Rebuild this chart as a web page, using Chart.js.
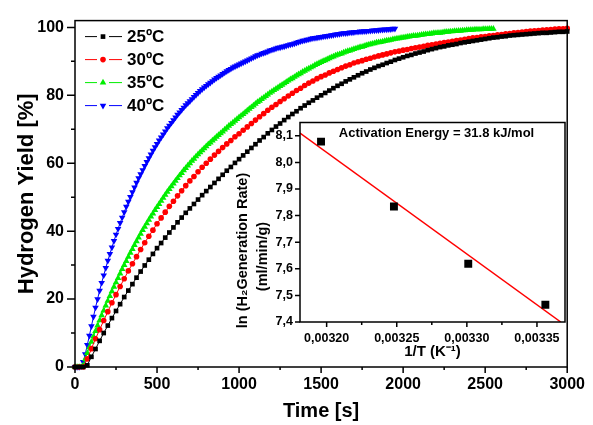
<!DOCTYPE html>
<html>
<head>
<meta charset="utf-8">
<script src="https://cdn.jsdelivr.net/npm/chart.js@4/dist/chart.umd.min.js"></script>
<style>
  body { margin: 0; background: #fff; }
  #wrap { position: relative; width: 593px; height: 425px; }
  #main { position: absolute; left: 0; top: 0; }
  #inset { position: absolute; left: 222px; top: 108px; }
</style>
</head>
<body>
<div id="wrap">
  <canvas id="main" width="593" height="425"></canvas>
  <canvas id="inset" width="350" height="255"></canvas>
</div>
<script>
// time axis (s), 25 s sampling (25 and 30 ºC runs)
const times = [
  0, 25, 50, 75, 100, 125, 150, 175, 200, 225,
  250, 275, 300, 325, 350, 375, 400, 425, 450, 475,
  500, 525, 550, 575, 600, 625, 650, 675, 700, 725,
  750, 775, 800, 825, 850, 875, 900, 925, 950, 975,
  1000, 1025, 1050, 1075, 1100, 1125, 1150, 1175, 1200, 1225,
  1250, 1275, 1300, 1325, 1350, 1375, 1400, 1425, 1450, 1475,
  1500, 1525, 1550, 1575, 1600, 1625, 1650, 1675, 1700, 1725,
  1750, 1775, 1800, 1825, 1850, 1875, 1900, 1925, 1950, 1975,
  2000, 2025, 2050, 2075, 2100, 2125, 2150, 2175, 2200, 2225,
  2250, 2275, 2300, 2325, 2350, 2375, 2400, 2425, 2450, 2475,
  2500, 2525, 2550, 2575, 2600, 2625, 2650, 2675, 2700, 2725,
  2750, 2775, 2800, 2825, 2850, 2875, 2900, 2925, 2950, 2975,
  3000
];

// time axis (s), 12.5 s sampling (35 and 40 ºC runs)
const timesFine = [
  0, 12.5, 25, 37.5, 50, 62.5, 75, 87.5,
  100, 112.5, 125, 137.5, 150, 162.5, 175, 187.5,
  200, 212.5, 225, 237.5, 250, 262.5, 275, 287.5,
  300, 312.5, 325, 337.5, 350, 362.5, 375, 387.5,
  400, 412.5, 425, 437.5, 450, 462.5, 475, 487.5,
  500, 512.5, 525, 537.5, 550, 562.5, 575, 587.5,
  600, 612.5, 625, 637.5, 650, 662.5, 675, 687.5,
  700, 712.5, 725, 737.5, 750, 762.5, 775, 787.5,
  800, 812.5, 825, 837.5, 850, 862.5, 875, 887.5,
  900, 912.5, 925, 937.5, 950, 962.5, 975, 987.5,
  1000, 1012.5, 1025, 1037.5, 1050, 1062.5, 1075, 1087.5,
  1100, 1112.5, 1125, 1137.5, 1150, 1162.5, 1175, 1187.5,
  1200, 1212.5, 1225, 1237.5, 1250, 1262.5, 1275, 1287.5,
  1300, 1312.5, 1325, 1337.5, 1350, 1362.5, 1375, 1387.5,
  1400, 1412.5, 1425, 1437.5, 1450, 1462.5, 1475, 1487.5,
  1500, 1512.5, 1525, 1537.5, 1550, 1562.5, 1575, 1587.5,
  1600, 1612.5, 1625, 1637.5, 1650, 1662.5, 1675, 1687.5,
  1700, 1712.5, 1725, 1737.5, 1750, 1762.5, 1775, 1787.5,
  1800, 1812.5, 1825, 1837.5, 1850, 1862.5, 1875, 1887.5,
  1900, 1912.5, 1925, 1937.5, 1950, 1962.5, 1975, 1987.5,
  2000, 2012.5, 2025, 2037.5, 2050, 2062.5, 2075, 2087.5,
  2100, 2112.5, 2125, 2137.5, 2150, 2162.5, 2175, 2187.5,
  2200, 2212.5, 2225, 2237.5, 2250, 2262.5, 2275, 2287.5,
  2300, 2312.5, 2325, 2337.5, 2350, 2362.5, 2375, 2387.5,
  2400, 2412.5, 2425, 2437.5, 2450, 2462.5, 2475, 2487.5,
  2500, 2512.5, 2525, 2537.5, 2550
];

// hydrogen yield (%) per temperature
const yield25 = [
  0, 0, 0, 0.5, 3.0, 5.3, 7.7, 10.0, 12.2, 14.4,
  16.5, 18.5, 20.6, 22.5, 24.4, 26.3, 28.1, 29.9, 31.6, 33.3,
  35.0, 36.5, 38.1, 39.6, 41.1, 42.6, 44.0, 45.4, 46.7, 48.0,
  49.3, 50.6, 51.8, 53.0, 54.2, 55.4, 56.6, 57.8, 58.9, 60.1,
  61.2, 62.3, 63.4, 64.5, 65.6, 66.7, 67.7, 68.8, 69.8, 70.8,
  71.7, 72.7, 73.6, 74.5, 75.3, 76.2, 77.0, 77.8, 78.5, 79.3,
  80.0, 80.7, 81.4, 82.1, 82.8, 83.4, 84.1, 84.7, 85.3, 85.9,
  86.5, 87.0, 87.6, 88.1, 88.6, 89.0, 89.5, 89.9, 90.4, 90.8,
  91.2, 91.6, 91.9, 92.3, 92.6, 92.9, 93.3, 93.6, 93.9, 94.2,
  94.4, 94.7, 94.9, 95.1, 95.4, 95.6, 95.8, 96.0, 96.2, 96.4,
  96.6, 96.8, 97.0, 97.1, 97.3, 97.4, 97.6, 97.7, 97.8, 97.9,
  98.0, 98.1, 98.2, 98.3, 98.4, 98.4, 98.5, 98.6, 98.7, 98.7,
  98.8
];
const yield30 = [
  0, 0, 0, 2.4, 5.4, 8.3, 11.0, 13.7, 16.3, 18.9,
  21.3, 23.7, 26.0, 28.3, 30.4, 32.5, 34.6, 36.6, 38.5, 40.3,
  42.2, 43.9, 45.6, 47.3, 48.8, 50.4, 51.9, 53.4, 54.8, 56.1,
  57.5, 58.8, 60.0, 61.2, 62.4, 63.5, 64.6, 65.7, 66.7, 67.8,
  68.7, 69.7, 70.7, 71.7, 72.7, 73.7, 74.6, 75.6, 76.5, 77.3,
  78.2, 79.0, 79.8, 80.6, 81.4, 82.1, 82.9, 83.6, 84.2, 84.9,
  85.5, 86.0, 86.6, 87.1, 87.6, 88.1, 88.6, 89.0, 89.5, 89.9,
  90.2, 90.6, 90.9, 91.3, 91.6, 91.9, 92.2, 92.5, 92.8, 93.0,
  93.3, 93.5, 93.8, 94.0, 94.2, 94.4, 94.7, 94.9, 95.1, 95.3,
  95.5, 95.7, 95.9, 96.1, 96.3, 96.5, 96.7, 96.9, 97.0, 97.2,
  97.3, 97.5, 97.6, 97.8, 97.9, 98.1, 98.2, 98.4, 98.5, 98.6,
  98.8, 98.9, 99.0, 99.1, 99.2, 99.3, 99.4, 99.5, 99.6, 99.6,
  99.7
];
const yield35 = [
  0, 0, 0, 0, 0.5, 2.3, 4.1, 5.8,
  7.4, 9.0, 10.6, 12.2, 13.7, 15.2, 16.6, 18.1,
  19.5, 20.9, 22.3, 23.6, 24.9, 26.2, 27.5, 28.8,
  30.0, 31.2, 32.4, 33.6, 34.7, 35.9, 37.0, 38.1,
  39.2, 40.3, 41.3, 42.3, 43.3, 44.3, 45.2, 46.2,
  47.1, 48.0, 48.9, 49.8, 50.7, 51.6, 52.4, 53.2,
  54.0, 54.8, 55.6, 56.4, 57.1, 57.9, 58.6, 59.3,
  60.0, 60.7, 61.3, 62.0, 62.6, 63.2, 63.8, 64.4,
  65.0, 65.6, 66.1, 66.7, 67.2, 67.8, 68.3, 68.8,
  69.3, 69.9, 70.4, 71.0, 71.5, 72.0, 72.5, 73.0,
  73.5, 74.0, 74.5, 75.0, 75.5, 76.0, 76.5, 77.0,
  77.5, 78.0, 78.4, 78.9, 79.3, 79.8, 80.2, 80.7,
  81.1, 81.5, 81.9, 82.3, 82.7, 83.1, 83.5, 83.9,
  84.3, 84.7, 85.0, 85.4, 85.8, 86.2, 86.5, 86.9,
  87.2, 87.6, 87.9, 88.2, 88.5, 88.9, 89.2, 89.5,
  89.8, 90.1, 90.3, 90.6, 90.9, 91.2, 91.4, 91.7,
  91.9, 92.1, 92.3, 92.6, 92.8, 93.0, 93.2, 93.4,
  93.6, 93.8, 94.0, 94.2, 94.3, 94.5, 94.7, 94.9,
  95.0, 95.2, 95.3, 95.5, 95.6, 95.7, 95.8, 96.0,
  96.1, 96.2, 96.3, 96.5, 96.6, 96.7, 96.8, 96.9,
  97.0, 97.1, 97.2, 97.3, 97.4, 97.5, 97.5, 97.6,
  97.7, 97.8, 97.9, 98.0, 98.0, 98.1, 98.2, 98.3,
  98.3, 98.4, 98.4, 98.5, 98.6, 98.7, 98.7, 98.8,
  98.8, 98.9, 98.9, 99.0, 99.0, 99.1, 99.1, 99.2,
  99.2, 99.3, 99.3, 99.4, 99.4, 99.4, 99.4, 99.5,
  99.5, 99.5, 99.6, 99.6, 99.6
];
const yield40 = [
  0, 0, 0, 0.2, 1.5, 3.8, 6.5, 9.2,
  12.0, 14.8, 17.5, 20.0, 22.5, 24.8, 27.0, 29.2,
  31.3, 33.3, 35.2, 37.1, 39.0, 40.7, 42.4, 44.0,
  45.6, 47.2, 48.7, 50.1, 51.5, 52.9, 54.3, 55.6,
  56.8, 58.0, 59.2, 60.4, 61.5, 62.6, 63.7, 64.7,
  65.7, 66.7, 67.6, 68.5, 69.4, 70.3, 71.1, 71.9,
  72.7, 73.5, 74.3, 75.0, 75.7, 76.4, 77.1, 77.7,
  78.3, 78.9, 79.5, 80.1, 80.7, 81.3, 81.8, 82.3,
  82.8, 83.3, 83.7, 84.2, 84.7, 85.1, 85.5, 85.9,
  86.3, 86.7, 87.1, 87.5, 87.8, 88.2, 88.5, 88.8,
  89.1, 89.4, 89.7, 90.0, 90.3, 90.6, 90.9, 91.2,
  91.5, 91.8, 92.0, 92.3, 92.5, 92.7, 92.9, 93.2,
  93.4, 93.6, 93.8, 94.0, 94.1, 94.3, 94.4, 94.6,
  94.8, 95.0, 95.1, 95.3, 95.5, 95.7, 95.9, 96.1,
  96.2, 96.4, 96.5, 96.7, 96.8, 96.9, 97.0, 97.1,
  97.2, 97.3, 97.4, 97.5, 97.6, 97.7, 97.8, 97.9,
  98.0, 98.1, 98.2, 98.3, 98.3, 98.4, 98.5, 98.5,
  98.6, 98.7, 98.7, 98.8, 98.8, 98.9, 98.9, 99.0,
  99.0, 99.1, 99.1, 99.2, 99.2, 99.3, 99.3, 99.4,
  99.4, 99.5, 99.5, 99.6, 99.6
];
const seriesLabels = ['25ºC', '30ºC', '35ºC', '40ºC'];

// inset: Arrhenius plot
const invT = [0.003196, 0.003248, 0.003301, 0.003356];
const lnRate = [8.078, 7.834, 7.619, 7.465];
const fitT = [0.003181, 0.003367];
const fitLn = [8.11, 7.40];
const insetXTicks = [0.0032, 0.003225, 0.00325, 0.003275, 0.0033, 0.003325, 0.00335];
const insetNote = 'Activation Energy = 31.8 kJ/mol';
const insetYTitle = ['ln (H₂Generation Rate)', '(ml/min/g)'];

function toPoints(xs, ys) {
  return ys.map((y, i) => ({x: xs[i], y: y}));
}

Chart.defaults.font.family = '"Liberation Sans", Arial, sans-serif';
Chart.defaults.font.weight = 'bold';
Chart.defaults.color = '#000';

function marker(ctx, style, rot, x, y, r) {
  ctx.beginPath();
  if (style === 'rect') {
    const s = r * Math.SQRT1_2;
    ctx.rect(x - s, y - s, 2 * s, 2 * s);
  } else if (style === 'circle') {
    ctx.arc(x, y, r, 0, Math.PI * 2);
  } else {
    const d = rot === 180 ? -1 : 1;
    ctx.moveTo(x, y - d * r);
    ctx.lineTo(x + r * 0.866, y + d * r * 0.5);
    ctx.lineTo(x - r * 0.866, y + d * r * 0.5);
    ctx.closePath();
  }
  ctx.fill();
}

// frame + outward major/minor tick marks
const axisMarks = {
  id: 'axisMarks',
  beforeDatasetsDraw(chart, args, o) {
    if (!o.fill) return;
    const a = chart.chartArea, ctx = chart.ctx;
    ctx.save();
    ctx.fillStyle = '#fff';
    ctx.fillRect(a.left, a.top, a.right - a.left, a.bottom - a.top);
    ctx.restore();
  },
  afterDraw(chart, args, o) {
    const ctx = chart.ctx, a = chart.chartArea;
    const xs = chart.scales.x, ys = chart.scales.y;
    ctx.save();
    ctx.strokeStyle = '#000';
    ctx.lineWidth = 1.5;
    ctx.strokeRect(a.left, a.top, a.right - a.left, a.bottom - a.top);
    ctx.beginPath();
    xs.ticks.forEach(t => {
      const px = xs.getPixelForValue(t.value);
      const len = t.label !== '' ? o.xMajor : o.xMinor;
      ctx.moveTo(px, a.bottom);
      ctx.lineTo(px, a.bottom + len);
    });
    ys.ticks.forEach(t => {
      const py = ys.getPixelForValue(t.value);
      const len = t.label !== '' ? o.yMajor : o.yMinor;
      ctx.moveTo(a.left, py);
      ctx.lineTo(a.left - len, py);
    });
    ctx.stroke();
    ctx.restore();
  }
};

const insideLegend = {
  id: 'insideLegend',
  afterDatasetsDraw(chart, args, o) {
    const ctx = chart.ctx, a = chart.chartArea;
    ctx.save();
    ctx.font = 'bold 17px "Liberation Sans", Arial, sans-serif';
    ctx.textBaseline = 'middle';
    chart.data.datasets.forEach((ds, i) => {
      const x = a.left + 10;
      const y = a.top + 16 + i * 23;
      ctx.strokeStyle = ds.borderColor;
      ctx.fillStyle = ds.borderColor;
      ctx.lineWidth = 1;
      ctx.beginPath();
      ctx.moveTo(x, y); ctx.lineTo(x + 12, y);
      ctx.moveTo(x + 24, y); ctx.lineTo(x + 37, y);
      ctx.stroke();
      marker(ctx, ds.pointStyle, ds.pointRotation || 0, x + 18, y, ds.pointRadius);
      ctx.fillStyle = '#000';
      ctx.fillText(ds.label, x + 42, y + 1);
    });
    ctx.restore();
  }
};

const insetText = {
  id: 'insetText',
  afterDraw(chart) {
    const ctx = chart.ctx, a = chart.chartArea;
    ctx.save();
    ctx.fillStyle = '#000';
    ctx.textAlign = 'center';
    ctx.textBaseline = 'middle';
    ctx.font = 'bold 13px "Liberation Sans", Arial, sans-serif';
    ctx.fillText(insetNote, (a.left + a.right) / 2 + 4, a.top + 11);
    // rotated y title, two lines
    ctx.font = 'bold 14.5px "Liberation Sans", Arial, sans-serif';
    ctx.translate(a.left - 57, a.top + 128);
    ctx.rotate(-Math.PI / 2);
    ctx.fillText(insetYTitle[0], 0, 0);
    ctx.fillText(insetYTitle[1], -6, 20);
    ctx.restore();
  }
};

const colors = ['#000000', '#ff0000', '#00ee00', '#0000ff'];
const styles = ['rect', 'circle', 'triangle', 'triangle'];
const radii = [3.3, 2.8, 3.8, 3.8];
const yields = [yield25, yield30, yield35, yield40];
const xGrids = [times, times, timesFine, timesFine];

new Chart(document.getElementById('main'), {
  type: 'line',
  data: {
    datasets: yields.map((ys, i) => ({
      label: seriesLabels[i],
      data: toPoints(xGrids[i], ys),
      borderColor: colors[i],
      backgroundColor: colors[i],
      borderWidth: 1,
      pointStyle: styles[i],
      pointRotation: i === 3 ? 180 : 0,
      pointRadius: radii[i],
      pointBorderWidth: 0,
      pointBackgroundColor: colors[i],
      clip: false
    }))
  },
  options: {
    responsive: false,
    animation: false,
    devicePixelRatio: 1,
    layout: {padding: {top: 16, right: 18, left: 0, bottom: 0}},
    plugins: {
      legend: {display: false},
      tooltip: {enabled: false},
      axisMarks: {xMajor: 6, xMinor: 3, yMajor: 8, yMinor: 4}
    },
    scales: {
      x: {
        type: 'linear', min: 0, max: 3000,
        afterFit: s => { s.height = 58; },
        grid: {display: false, drawTicks: false},
        border: {display: false},
        ticks: {stepSize: 250, autoSkip: false, maxRotation: 0, padding: 8, font: {size: 16},
          callback: v => (v % 500 === 0 ? String(v) : '')},
        title: {display: true, text: 'Time [s]', font: {size: 20}, padding: {top: 0, bottom: 2}}
      },
      y: {
        type: 'linear', min: 0, max: 102,
        afterFit: s => { s.width = 75; },
        grid: {display: false, drawTicks: false},
        border: {display: false},
        ticks: {stepSize: 10, includeBounds: false, autoSkip: false, padding: 11, font: {size: 16},
          callback: v => (v % 20 === 0 ? String(v) : '')},
        title: {display: true, text: 'Hydrogen Yield [%]', font: {size: 22}, padding: {top: 14, bottom: 0}}
      }
    }
  },
  plugins: [axisMarks, insideLegend]
});

new Chart(document.getElementById('inset'), {
  type: 'scatter',
  data: {
    datasets: [
      {
        data: toPoints(invT, lnRate),
        pointStyle: 'rect',
        pointRadius: 5.6,
        pointBorderWidth: 0,
        backgroundColor: '#000',
        borderColor: '#000',
        showLine: false
      },
      {
        data: toPoints(fitT, fitLn),
        showLine: true,
        borderColor: '#ff0000',
        borderWidth: 1.5,
        pointRadius: 0
      }
    ]
  },
  options: {
    responsive: false,
    animation: false,
    devicePixelRatio: 1,
    layout: {padding: {top: 7, right: 7, left: 0, bottom: 0}},
    plugins: {
      legend: {display: false},
      tooltip: {enabled: false},
      axisMarks: {fill: true, xMajor: 5, xMinor: 3, yMajor: 5, yMinor: 3}
    },
    scales: {
      x: {
        type: 'linear', min: 0.003181, max: 0.00337,
        afterFit: s => { s.height = 41; },
        afterBuildTicks: s => { s.ticks = insetXTicks.map(v => ({value: v})); },
        grid: {display: false, drawTicks: false},
        border: {display: false},
        ticks: {autoSkip: false, maxRotation: 0, padding: 9, font: {size: 12.5},
          callback: (v, i) => (i % 2 === 0 ? v.toFixed(5).replace('.', ',') : '')},
        title: {display: true, text: '1/T (K⁻¹)', font: {size: 15}, padding: {top: 0, bottom: 2}}
      },
      y: {
        type: 'linear', min: 7.4, max: 8.15,
        afterFit: s => { s.width = 78; },
        grid: {display: false, drawTicks: false},
        border: {display: false},
        ticks: {stepSize: 0.1, includeBounds: false, autoSkip: false, padding: 7, font: {size: 12.5},
          callback: v => v.toFixed(1).replace('.', ',')},
        title: {display: false}
      }
    }
  },
  plugins: [axisMarks, insetText]
});
</script>
</body>
</html>
